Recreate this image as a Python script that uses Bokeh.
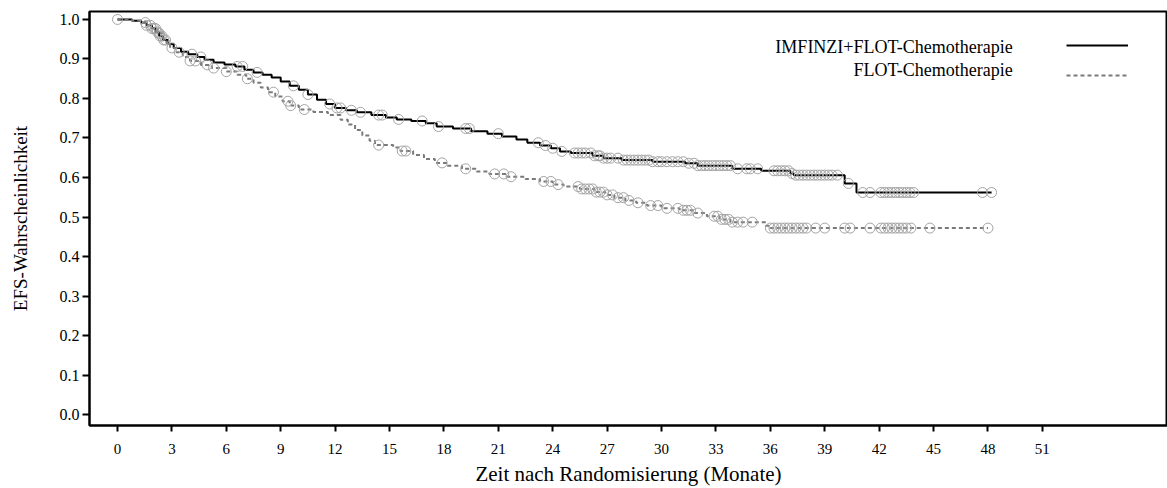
import numpy as np
from bokeh.plotting import figure
from bokeh.models import Range1d, FixedTicker, Legend, LegendItem, Label, PrintfTickFormatter
from bokeh.embed import file_html
from bokeh.resources import INLINE
from bokeh.core.properties import value

# ---------------- data ----------------
series_names = ["IMFINZI+FLOT-Chemotherapie", "FLOT-Chemotherapie"]

# IMFINZI + FLOT: step times (months) and survival after each step
imf_t = [0, 0.8, 1.3, 1.6, 1.9, 2.1, 2.3, 2.5, 2.8, 3.1, 3.5, 3.9, 4.4, 4.8, 5.3,
         5.9, 6.5, 7.0, 7.5, 8.0, 8.5, 9.0, 9.5, 10.0, 10.5, 11.0, 11.5, 12.0,
         12.6, 13.2, 14.0, 14.8, 15.4, 16.2, 17.0, 17.6, 18.5, 19.5, 20.4, 21.2,
         22.0, 22.6, 23.3, 23.9, 24.4, 25.0, 26.2, 26.8, 27.8, 29.5, 31.3, 32.0,
         33.9, 35.5, 37.1, 37.3, 40.1, 40.75, 48.2]
imf_s = [1.0, 0.997, 0.992, 0.985, 0.978, 0.968, 0.958, 0.948, 0.938, 0.928, 0.918,
         0.912, 0.905, 0.898, 0.891, 0.886, 0.881, 0.873, 0.866, 0.860, 0.853,
         0.843, 0.832, 0.822, 0.810, 0.797, 0.786, 0.776, 0.770, 0.765, 0.758,
         0.752, 0.747, 0.743, 0.737, 0.729, 0.724, 0.717, 0.711, 0.704, 0.696,
         0.688, 0.681, 0.674, 0.666, 0.662, 0.655, 0.649, 0.644, 0.640, 0.636,
         0.630, 0.622, 0.617, 0.610, 0.606, 0.585, 0.562, 0.562]
imf_cens = [1.54, 1.82, 2.0, 2.2, 2.35, 2.45, 2.55, 2.65, 4.1, 4.6, 6.6, 6.9, 7.7,
            9.7, 10.5, 11.7, 12.1, 12.3, 12.9, 13.4, 14.4, 14.6, 15.5, 16.8, 17.7,
            19.2, 19.4, 21.0, 23.2, 23.6, 24.0, 24.5, 25.2, 25.4, 25.6, 25.8, 26.1,
            26.3, 26.5, 26.6, 26.8, 27.0, 27.2, 27.6, 27.9, 28.1, 28.3, 28.5, 28.7,
            28.9, 29.1, 29.3, 29.5, 29.8, 30.0, 30.3, 30.6, 30.9, 31.2, 31.5, 31.8,
            32.0, 32.2, 32.4, 32.6, 32.8, 33.0, 33.2, 33.4, 33.6, 33.8, 34.2, 34.7,
            34.9, 35.3, 36.2, 36.4, 36.6, 36.8, 37.0, 37.2, 37.4, 37.6, 37.8, 38.0,
            38.2, 38.4, 38.6, 38.8, 39.0, 39.2, 39.4, 39.7, 40.3, 41.1, 41.5, 42.1,
            42.3, 42.5, 42.7, 42.9, 43.1, 43.3, 43.5, 43.7, 43.9, 47.7, 48.2]

# FLOT: step times (months) and survival after each step
flot_t = [0, 0.8, 1.3, 1.6, 1.9, 2.2, 2.5, 2.7, 2.9, 3.2, 3.6, 4.0, 4.6, 5.2, 6.0,
          6.6, 7.1, 7.5, 7.9, 8.3, 8.7, 9.1, 9.5, 10.0, 10.8, 11.6, 12.3, 12.7,
          13.1, 13.5, 13.9, 14.2, 15.2, 15.6, 16.3, 16.9, 17.5, 18.2, 19.0, 19.8,
          20.5, 21.5, 22.5, 23.3, 24.0, 24.6, 25.5, 26.3, 26.9, 27.4, 28.0, 28.6,
          29.2, 30.0, 31.0, 31.8, 32.5, 33.2, 33.8, 35.75, 36.0, 48.0]
flot_s = [1.0, 0.997, 0.992, 0.985, 0.977, 0.965, 0.952, 0.940, 0.928, 0.917,
          0.905, 0.895, 0.885, 0.877, 0.868, 0.860, 0.850, 0.840, 0.828, 0.816,
          0.805, 0.793, 0.782, 0.772, 0.766, 0.758, 0.746, 0.734, 0.720, 0.706,
          0.693, 0.682, 0.676, 0.667, 0.657, 0.647, 0.637, 0.630, 0.622, 0.615,
          0.609, 0.602, 0.596, 0.590, 0.582, 0.577, 0.571, 0.563, 0.556, 0.549,
          0.542, 0.536, 0.529, 0.522, 0.517, 0.510, 0.502, 0.494, 0.487, 0.478,
          0.472, 0.472]
flot_cens = [0.0, 1.6, 1.9, 2.1, 2.3, 3.0, 3.4, 4.0, 4.3, 4.95, 5.3, 6.0, 7.16, 8.6,
             9.4, 9.55, 10.3, 14.4, 15.7, 15.9, 17.9, 19.2, 20.8, 21.3, 21.7, 23.5,
             23.9, 24.3, 25.4, 25.6, 25.8, 26.0, 26.2, 26.4, 26.6, 26.8, 27.0, 27.3,
             27.6, 27.9, 28.2, 28.7, 29.4, 29.8, 30.3, 30.9, 31.2, 31.4, 31.6, 32.0,
             32.9, 33.1, 33.3, 33.5, 33.7, 33.9, 34.2, 34.5, 35.0, 36.0, 36.2, 36.4,
             36.6, 36.8, 37.0, 37.2, 37.4, 37.6, 37.8, 38.0, 38.5, 39.0, 40.1, 40.4,
             41.5, 42.1, 42.3, 42.5, 42.7, 42.9, 43.1, 43.3, 43.5, 43.75, 44.8, 48.0]

x_ticks = [0, 3, 6, 9, 12, 15, 18, 21, 24, 27, 30, 33, 36, 39, 42, 45, 48, 51]
y_ticks = [0.0, 0.1, 0.2, 0.3, 0.4, 0.5, 0.6, 0.7, 0.8, 0.9, 1.0]
x_title = "Zeit nach Randomisierung (Monate)"
y_title = "EFS-Wahrscheinlichkeit"


def at(times, surv, c):
    idx = np.searchsorted(np.asarray(times), np.asarray(c), side="right") - 1
    return list(np.asarray(surv)[idx])


FONT = "Liberation Serif"
BLACK = "#000000"
GREY = "#7a7a7a"
CENS = "#a4a4a4"

p = figure(width=1167, height=488,
           x_range=Range1d(-1.544, 57.9), y_range=Range1d(-0.0276, 1.0201),
           output_backend="svg", toolbar_location=None,
           min_border_left=89, min_border_right=0, min_border_top=11,
           min_border_bottom=60)
p.grid.visible = False
p.background_fill_color = "white"
p.border_fill_color = "white"
p.outline_line_color = "black"
p.outline_line_width = 2

# curves
r_imf = p.step(imf_t, imf_s, mode="after", line_color=BLACK, line_width=2)
r_flot = p.step(flot_t, flot_s, mode="after", line_color=GREY, line_width=2,
                line_dash="4 3")
p.scatter(imf_cens, at(imf_t, imf_s, imf_cens), marker="circle", size=10,
          fill_color=None, line_color=CENS, line_width=1)
p.scatter(flot_cens, at(flot_t, flot_s, flot_cens), marker="circle", size=10,
          fill_color=None, line_color=CENS, line_width=1)

# axes
xa = p.xaxis[0]
xa.ticker = FixedTicker(ticks=x_ticks)
xa.axis_label = x_title
xa.axis_label_text_font = FONT
xa.axis_label_text_font_size = "21px"
xa.axis_label_text_font_style = "normal"
xa.axis_label_text_color = "black"
xa.axis_label_standoff = 5
xa.major_label_text_font = FONT
xa.major_label_text_font_size = "15px"
xa.major_label_text_color = "black"
xa.major_label_standoff = 12
xa.major_tick_out = 6
xa.major_tick_in = 0
xa.minor_tick_out = 0
xa.minor_tick_in = 0
xa.axis_line_width = 2
xa.major_tick_line_width = 2

ya = p.yaxis[0]
ya.ticker = FixedTicker(ticks=y_ticks)
ya.formatter = PrintfTickFormatter(format="%.1f")
ya.axis_label = y_title
ya.axis_label_text_font = FONT
ya.axis_label_text_font_size = "19px"
ya.axis_label_text_font_style = "normal"
ya.axis_label_text_color = "black"
ya.axis_label_standoff = 26
ya.major_label_text_font = FONT
ya.major_label_text_font_size = "16px"
ya.major_label_text_color = "black"
ya.major_label_standoff = 3
ya.major_tick_out = 7
ya.major_tick_in = 0
ya.minor_tick_out = 0
ya.minor_tick_in = 0
ya.axis_line_width = 2
ya.major_tick_line_width = 2

# legend: line samples to the right of right-aligned texts
legend = Legend(items=[LegendItem(label=value(""), renderers=[r_imf]),
                       LegendItem(label=value(""), renderers=[r_flot])],
                location=(977, 340), glyph_width=62, glyph_height=20,
                spacing=10, padding=0, margin=0, label_width=0,
                label_standoff=0, border_line_color=None,
                background_fill_alpha=0)
p.add_layout(legend)

for name, yv in zip(series_names, [0.9296, 0.8719]):
    p.add_layout(Label(x=49.37, y=yv, text=name, text_align="right",
                       text_baseline="middle", text_font=FONT,
                       text_font_size="18px", text_color="black"))

open("out.html", "w").write(file_html(p, INLINE))
